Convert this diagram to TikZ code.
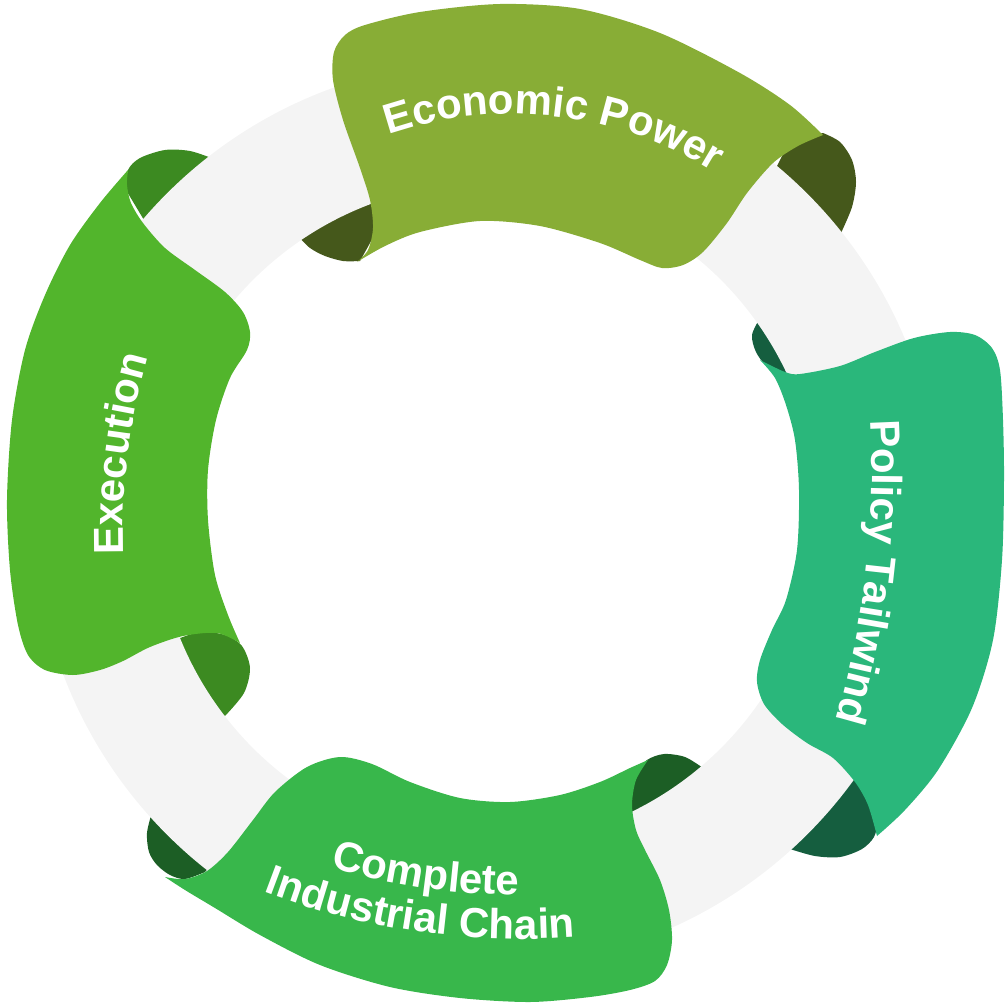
\documentclass[tikz,border=0pt]{standalone}
\usepackage{fontspec}
\setmainfont{Liberation Sans}
\usetikzlibrary{decorations.text}
\definecolor{ecoC}{HTML}{88AD36}
\definecolor{ecoD}{HTML}{45581B}
\definecolor{polC}{HTML}{2AB77B}
\definecolor{polD}{HTML}{155E3F}
\definecolor{comC}{HTML}{38B74B}
\definecolor{comD}{HTML}{1C5E25}
\definecolor{exeC}{HTML}{52B52C}
\definecolor{exeD}{HTML}{3C8A21}
\definecolor{ringC}{HTML}{F4F4F4}
\newcommand\bannerfont{\fontsize{42}{50}\selectfont\bfseries}
\tikzset{
  labeltext/.style={decorate, decoration={text along path, text align=center, text color=white}}
}
\begin{document}
\begin{tikzpicture}[x=1pt,y=-1pt]
\useasboundingbox (0,0) rectangle (1007,1004);
% ---------- folds (behind the ring) ----------
% Execution top fold
\fill[exeD] plot[smooth] coordinates {(126,190) (128,170) (140,158) (165,150) (190,151) (214,159)} -- (200,190) -- (150,230) -- cycle;
% Execution bottom fold
\fill[exeD] plot[smooth] coordinates {(175,640) (200,632) (225,635) (242,646) (250,668) (244,693) (225,716)} -- (195,700) -- (170,650) -- cycle;
% Economic left fold
\fill[ecoD] plot[smooth] coordinates {(298,236) (310,248) (325,256) (343,261) (360,261)} -- (380,225) -- (372,190) -- (330,205) -- cycle;
% Economic right fold
\fill[ecoD] (790,140) -- plot[smooth] coordinates {(823,133) (840,142) (852,160) (856,182) (852,207) (841,233)} -- (815,235) -- (770,180) -- cycle;
% Policy top fold
\fill[polD] plot[smooth] coordinates {(760,318) (752,335) (756,352) (767,366) (790,377)} -- (810,370) -- (780,315) -- cycle;
% Policy bottom fold
\fill[polD] (850,770) -- plot[smooth] coordinates {(862,788) (872,805) (877,822) (874,837) (862,849) (840,857) (815,856) (790,849)} -- (790,830) -- (840,770) -- cycle;
% Complete right fold
\fill[comD] plot[smooth] coordinates {(632,818) (631,795) (636,774) (647,760) (664,754) (685,757) (703,768)} -- (700,790) -- (640,830) -- cycle;
% Complete left fold
\fill[comD] plot[smooth] coordinates {(152,812) (147,833) (149,852) (157,865) (170,875) (185,879) (205,872)} -- (215,860) -- (170,810) -- cycle;
% ---------- ring ----------
\fill[ringC, even odd rule] (487,514) circle[radius=453] (487,514) circle[radius=331];
% ---------- banners ----------
% Execution
\fill[exeC] plot[smooth] coordinates {(128,170) (100,203) (70,245) (45,295) (25,350) (12,420) (7,500) (10,570) (18,625) (28,655) (45,670) (73,675) (100,670) (123,661) (150,647) (183,636) (217,633) (240,643)}
  -- plot[smooth] coordinates {(240,643) (228,615) (215,575) (208,520) (208,470) (216,420) (230,378) (247,350) (250,332) (243,312) (225,292) (195,270) (165,248) (143,223) (131,203) (127,185) (128,170)} -- cycle;
% Economic Power
\fill[ecoC] plot[smooth] coordinates {(357,262) (368,250) (373,228) (370,200) (360,168) (343,120) (333,80) (334,52) (345,35) (365,25) (420,12) (500,4) (580,9) (660,33) (740,73) (790,105) (823,135)}
  -- plot[smooth] coordinates {(823,135) (798,146) (773,163) (747,193) (727,223) (703,252) (683,265) (662,268) (640,260) (600,243) (540,226) (480,221) (420,232) (385,246) (357,262)} -- cycle;
% Policy Tailwind
\fill[polC] plot[smooth] coordinates {(760,360) (785,372) (800,374) (840,366) (875,352) (914,338) (950,332) (975,335) (992,348) (1000,370) (1003,420) (1004,480) (1002,560) (993,640) (972,708) (938,770) (905,810) (877,836)}
  -- plot[smooth] coordinates {(877,836) (868,805) (855,782) (833,758) (807,743) (782,724) (764,704) (757,682) (760,660) (772,630) (786,600) (797,550) (799,490) (795,440) (786,405) (775,378) (760,360)} -- cycle;
% Complete Industrial Chain
\fill[comC] plot[smooth] coordinates {(165,877) (185,879) (207,871) (228,852) (253,820) (275,792) (307,767) (340,757) (372,764) (410,782) (460,798) (510,802) (560,795) (600,782) (630,768) (648,760)}
  -- plot[smooth] coordinates {(648,760) (636,780) (632,805) (636,830) (645,850) (660,880) (669,910) (672,940) (667,965) (655,981) (630,990) (590,997) (530,1002) (460,998) (390,987) (320,965) (260,935) (215,908) (185,890) (165,877)} -- cycle;
% ---------- labels ----------
\path[labeltext, decoration={text={|\bannerfont|Economic Power}}]
  (512,497) ++(-115:383) arc[start angle=-115, end angle=-52, radius=383];
\path[labeltext, decoration={text={|\bannerfont|Policy Tailwind}}]
  (-12,470) ++(-5:884) arc[start angle=-5, end angle=18.2, radius=884];
\path[labeltext, decoration={text={|\bannerfont|Execution}}]
  (773,535) ++(176:650) arc[start angle=176, end angle=198.2, radius=650];
\path[labeltext, decoration={text={|\bannerfont|Complete}}]
  (520,225) ++(112:670) arc[start angle=112, end angle=84.5, radius=670];
\path[labeltext, decoration={text={|\bannerfont|Industrial Chain}}]
  (520,225) ++(113:714) arc[start angle=113, end angle=83.6, radius=714];
\end{tikzpicture}
\end{document}
